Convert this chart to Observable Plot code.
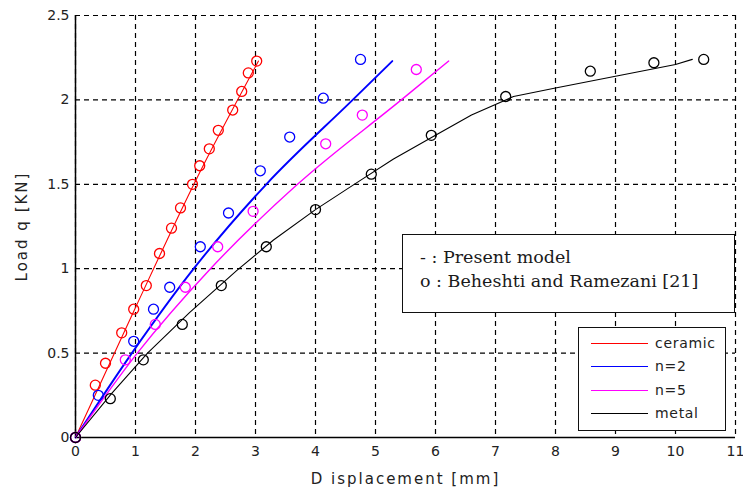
<!DOCTYPE html>
<html>
<head>
<meta charset="utf-8">
<script src="https://cdn.jsdelivr.net/npm/d3@7"></script>
<script src="https://cdn.jsdelivr.net/npm/@observablehq/plot@0.6"></script>
<style>
  html, body { margin: 0; padding: 0; background: #fff; }
  #chart { position: relative; width: 743px; height: 495px; }
  .box { position: absolute; background: #fff; border: 1.5px solid #111; box-sizing: border-box; }
  #note { left: 402px; top: 234px; width: 333px; height: 79px;
          font-family: "DejaVu Serif", serif; font-size: 17.5px; color: #1a1a1a; }
  #note div { position: absolute; left: 17px; white-space: nowrap; line-height: normal; }
  #key { left: 578px; top: 327px; width: 148px; height: 104px;
         font-family: "DejaVu Sans", sans-serif; font-size: 14px; color: #222; letter-spacing: 0.7px; }
  #key .row { position: absolute; left: 0; height: 20px; width: 100%; }
  #key .swatch { position: absolute; left: 12px; top: 9px; width: 57px; height: 0; border-top: 1.3px solid; }
  #key .name { position: absolute; left: 76px; top: 1px; }
</style>
</head>
<body>
<div id="chart"></div>
<script>
// Axis ticks
const xTicks = [0, 1, 2, 3, 4, 5, 6, 7, 8, 9, 10, 11];
const yTicks = [0, 0.5, 1, 1.5, 2, 2.5];
const yTickLabels = ["0", "0.5", "1", "1.5", "2", "2.5"];

// Series names, colours and line curves
const seriesNames = ["ceramic", "n=2", "n=5", "metal"];
const seriesColors = ["#ff0000", "#0000ff", "#ff00ff", "#000000"];
const seriesWidths = [1.1, 1.9, 1.4, 1.1];
const seriesCurves = ["monotone-x", "monotone-x", "monotone-x", "linear"];

// Present model (lines): displacement [mm] and load [KN]
const ceramicModelX = [0, 1.0, 2.0, 3.05];
const ceramicModelY = [0, 0.77, 1.52, 2.23];
const n2ModelX = [0, 0.94, 1.97, 3.18, 4.62, 5.28];
const n2ModelY = [0, 0.5, 1.0, 1.5, 2.0, 2.23];
const n5ModelX = [0, 1.03, 2.25, 3.70, 5.43, 6.22];
const n5ModelY = [0, 0.5, 1.0, 1.5, 2.0, 2.23];
const metalModelX = [0, 0.6, 1.2, 1.9, 2.69, 3.3, 4.0, 4.69, 5.3, 6.0, 6.6, 7.3, 8.0, 9.0, 10.0, 10.28];
const metalModelY = [0, 0.26, 0.5, 0.74, 0.99, 1.17, 1.35, 1.51, 1.65, 1.79, 1.91, 2.02, 2.07, 2.14, 2.21, 2.24];

// Beheshti and Ramezani [21] (circles)
const ceramicRefX = [0, 0.33, 0.5, 0.77, 0.97, 1.18, 1.40, 1.60, 1.75, 1.95, 2.07, 2.23, 2.38, 2.62, 2.77, 2.88, 3.02];
const ceramicRefY = [0, 0.31, 0.44, 0.62, 0.76, 0.90, 1.09, 1.24, 1.36, 1.50, 1.61, 1.71, 1.82, 1.94, 2.05, 2.16, 2.23];
const n2RefX = [0, 0.38, 0.97, 1.30, 1.57, 2.08, 2.55, 3.08, 3.57, 4.13, 4.75];
const n2RefY = [0, 0.25, 0.57, 0.76, 0.89, 1.13, 1.33, 1.58, 1.78, 2.01, 2.24];
const n5RefX = [0, 0.83, 1.33, 1.83, 2.37, 2.96, 4.17, 4.78, 5.68];
const n5RefY = [0, 0.46, 0.67, 0.89, 1.13, 1.34, 1.74, 1.91, 2.18];
const metalRefX = [0, 0.58, 1.13, 1.78, 2.43, 3.18, 4.00, 4.93, 5.93, 7.17, 8.58, 9.64, 10.47];
const metalRefY = [0, 0.23, 0.46, 0.67, 0.90, 1.13, 1.35, 1.56, 1.79, 2.02, 2.17, 2.22, 2.24];

const xLabel = "D isplacement [mm]";
const yLabel = "Load q [KN]";
const noteLines = ["- : Present model", "o : Beheshti and Ramezani [21]"];

const modelX = [ceramicModelX, n2ModelX, n5ModelX, metalModelX];
const modelY = [ceramicModelY, n2ModelY, n5ModelY, metalModelY];
const refX = [ceramicRefX, n2RefX, n5RefX, metalRefX];
const refY = [ceramicRefY, n2RefY, n5RefY, metalRefY];

const toRows = (xs, ys, name) => xs.map((x, i) => ({x, y: ys[i], name}));
const models = seriesNames.map((n, k) => toRows(modelX[k], modelY[k], n));
const refs = seriesNames.flatMap((n, k) => toRows(refX[k], refY[k], n));

const marks = [
  Plot.gridX(xTicks, {stroke: "#000", strokeOpacity: 1, strokeWidth: 1.2, strokeDasharray: "5,4"}),
  Plot.gridY(yTicks, {stroke: "#000", strokeOpacity: 1, strokeWidth: 1.2, strokeDasharray: "5,4"}),
  Plot.ruleX([0], {stroke: "#000", strokeWidth: 1.5}),
  Plot.ruleY([0], {stroke: "#000", strokeWidth: 1.5}),
  ...models.map((rows, k) => Plot.line(rows, {x: "x", y: "y", stroke: seriesColors[k],
    strokeWidth: seriesWidths[k], curve: seriesCurves[k]})),
  Plot.dot(refs, {x: "x", y: "y", r: 5, stroke: d => seriesColors[seriesNames.indexOf(d.name)], fill: "none", strokeWidth: 1.3}),
  Plot.axisX(xTicks, {tickSize: 0, tickPadding: 9, label: null, fill: "#222"}),
  Plot.axisY(yTicks, {tickSize: 0, tickPadding: 6, label: null, fill: "#222",
    tickFormat: d => yTickLabels[yTicks.indexOf(d)]}),
  Plot.text([xLabel], {frameAnchor: "bottom", dy: 46, text: d => d, fill: "#222", fontSize: 15, textAnchor: "middle"}),
  Plot.text([yLabel], {frameAnchor: "left", dx: -53, rotate: -90, text: d => d, fill: "#222", fontSize: 15, textAnchor: "middle"})
];

const svg = Plot.plot({
  width: 743,
  height: 495,
  marginLeft: 75,
  marginRight: 8,
  marginTop: 15,
  marginBottom: 58,
  x: {domain: [0, 11]},
  y: {domain: [0, 2.5]},
  style: {fontFamily: "DejaVu Sans, sans-serif", fontSize: "14px", overflow: "visible", background: "#fff"},
  marks
});

// Wider letter spacing on the two axis titles
svg.querySelectorAll("text").forEach(t => {
  if (t.textContent === xLabel || t.textContent === yLabel) t.setAttribute("letter-spacing", "2");
});

const chart = document.getElementById("chart");
chart.appendChild(svg);

// Text box describing the two kinds of marks
const note = document.createElement("div");
note.className = "box";
note.id = "note";
noteLines.forEach((t, i) => {
  const line = document.createElement("div");
  line.textContent = t;
  line.style.top = (12 + i * 24) + "px";
  note.appendChild(line);
});
chart.appendChild(note);

// Colour key for the four materials
const key = document.createElement("div");
key.className = "box";
key.id = "key";
seriesNames.forEach((n, k) => {
  const row = document.createElement("div");
  row.className = "row";
  row.style.top = (6 + k * 23.3) + "px";
  const sw = document.createElement("div");
  sw.className = "swatch";
  sw.style.borderTopColor = seriesColors[k];
  const label = document.createElement("div");
  label.className = "name";
  label.textContent = n;
  row.appendChild(sw);
  row.appendChild(label);
  key.appendChild(row);
});
chart.appendChild(key);
</script>
</body>
</html>
